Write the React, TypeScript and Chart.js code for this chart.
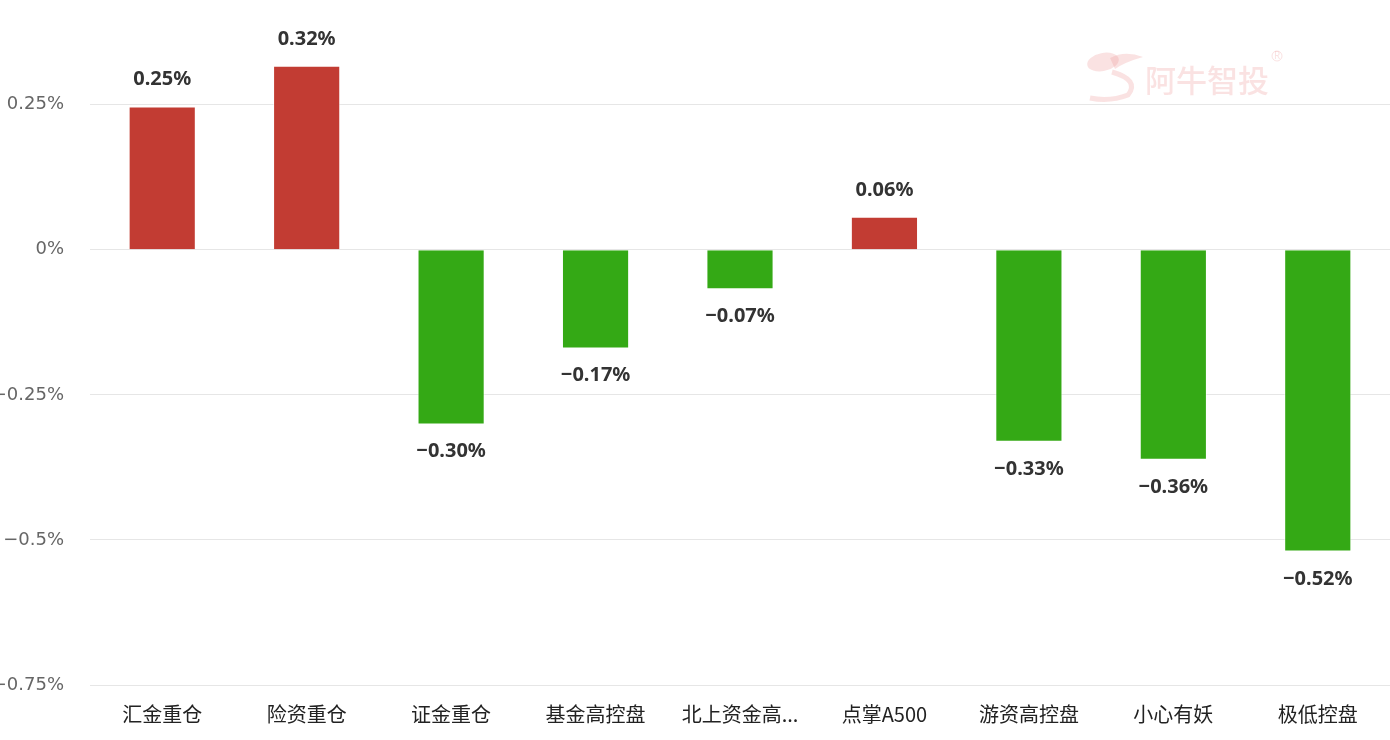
import React, { useEffect, useRef } from "react";
import { Chart, registerables } from "chart.js";

Chart.register(...registerables);

const categories = ["汇金重仓", "险资重仓", "证金重仓", "基金高控盘", "北上资金高...", "点掌A500", "游资高控盘", "小心有妖", "极低控盘"];
const values = [0.247, 0.317, -0.301, -0.17, -0.068, 0.057, -0.331, -0.362, -0.52];
const yTicks = [0.25, 0, -0.25, -0.5, -0.75];
const yTickLabels = ["0.25%", "0%", "−0.25%", "−0.5%", "−0.75%"];

const RED = "#c23c33";
const GREEN = "#34a915";

const valueLabelPlugin = {
  id: "valueLabels",
  afterDatasetsDraw(chart: any) {
    const ctx = chart.ctx;
    const meta = chart.getDatasetMeta(0);
    ctx.save();
    ctx.font = "bold 20px 'Noto Sans', sans-serif";
    ctx.fillStyle = "#333";
    ctx.textAlign = "center";
    ctx.textBaseline = "alphabetic";
    meta.data.forEach((bar: any, i: number) => {
      const v = values[i];
      const txt = (v < 0 ? "−" : "") + Math.abs(v).toFixed(2) + "%";
      if (v >= 0) {
        ctx.fillText(txt, bar.x, bar.y - 21);
      } else {
        ctx.fillText(txt, bar.x, bar.y + 33);
      }
    });
    ctx.restore();
  },
};

const watermarkPlugin = {
  id: "watermark",
  beforeDatasetsDraw(chart: any) {
    const ctx = chart.ctx;
    ctx.save();
    ctx.fillStyle = "rgba(236,150,150,0.28)";
    ctx.strokeStyle = "rgba(236,150,150,0.28)";
    ctx.beginPath();
    ctx.ellipse(1103, 62, 16, 9, -0.2, 0, Math.PI * 2);
    ctx.fill();
    ctx.beginPath();
    ctx.moveTo(1110, 58);
    ctx.quadraticCurveTo(1125, 50, 1143, 57);
    ctx.quadraticCurveTo(1125, 62, 1115, 69);
    ctx.closePath();
    ctx.fill();
    ctx.lineWidth = 5;
    ctx.beginPath();
    ctx.moveTo(1112, 72);
    ctx.quadraticCurveTo(1140, 80, 1128, 95);
    ctx.quadraticCurveTo(1110, 102, 1090, 98);
    ctx.stroke();
    ctx.font = "500 31px 'Noto Sans CJK SC', sans-serif";
    ctx.textBaseline = "middle";
    ctx.textAlign = "left";
    ctx.fillText("阿牛智投", 1145, 80);
    ctx.font = "10px 'Noto Sans', sans-serif";
    ctx.lineWidth = 1;
    ctx.beginPath();
    ctx.arc(1277, 56, 5, 0, Math.PI * 2);
    ctx.stroke();
    ctx.textAlign = "center";
    ctx.fillText("R", 1277, 56);
    ctx.restore();
  },
};

export default function App() {
  const ref = useRef<HTMLCanvasElement>(null);
  useEffect(() => {
    document.body.style.margin = "0";
    const chart = new Chart(ref.current!, {
      type: "bar",
      data: {
        labels: categories,
        datasets: [
          {
            data: values,
            backgroundColor: values.map((v) => (v >= 0 ? RED : GREEN)),
            borderColor: "rgba(255,255,255,0.6)",
            borderWidth: 1,
            categoryPercentage: 1,
            barPercentage: 0.465,
          },
        ],
      },
      options: {
        animation: false,
        responsive: false,
        maintainAspectRatio: false,
        layout: { padding: { top: 17, right: 0, left: 0, bottom: 0 } },
        plugins: { legend: { display: false }, tooltip: { enabled: false } },
        scales: {
          x: {
            grid: { display: false, drawTicks: false },
            border: { display: false },
            ticks: {
              color: "#222",
              font: { size: 20, family: "'Noto Sans CJK SC', sans-serif" },
              padding: 17,
              maxRotation: 0,
              autoSkip: false,
            },
            afterFit: (s: any) => {
              s.height = 55;
            },
          },
          y: {
            min: -0.75,
            max: 0.367,
            afterBuildTicks: (s: any) => {
              s.ticks = yTicks.map((v) => ({ value: v }));
            },
            afterFit: (s: any) => {
              s.width = 90;
            },
            grid: { color: "#e6e6e6", lineWidth: 1, drawTicks: false },
            border: { display: false },
            ticks: {
              color: "#666",
              font: { size: 18, family: "'DejaVu Sans', sans-serif" },
              padding: 26,
              callback: (v: any) => {
                const i = yTicks.indexOf(Number(v));
                return i >= 0 ? yTickLabels[i] : "";
              },
            },
          },
        },
      },
      plugins: [watermarkPlugin, valueLabelPlugin],
    });
    return () => chart.destroy();
  }, []);
  return <canvas ref={ref} width={1390} height={740} style={{ display: "block" }} />;
}
